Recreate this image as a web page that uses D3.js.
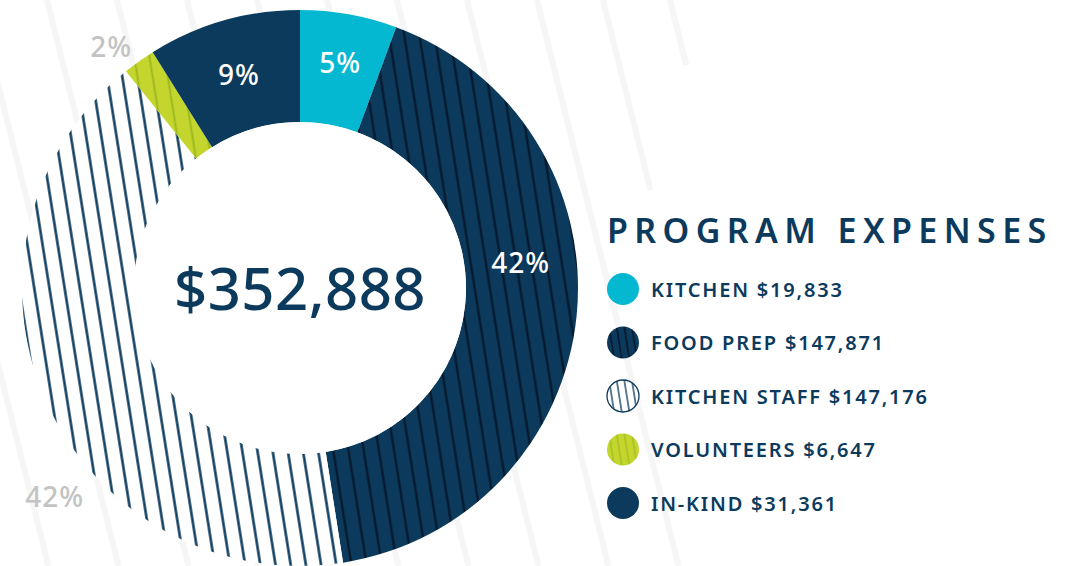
<!DOCTYPE html>
<html>
<head>
<meta charset="utf-8">
<script src="https://cdn.jsdelivr.net/npm/d3@7"></script>
<style>
  html, body { margin: 0; padding: 0; background: #ffffff; }
  svg { display: block; }
</style>
</head>
<body>
<svg id="chart" width="1073" height="566"></svg>
<script>
// ---- data ----
const categories = ["KITCHEN", "FOOD PREP", "KITCHEN STAFF", "VOLUNTEERS", "IN-KIND"];
const values = [19833, 147871, 147176, 6647, 31361];
const percentLabels = ["5%", "42%", "42%", "2%", "9%"];
const totalLabel = "$352,888";
const title = "PROGRAM EXPENSES";

// ---- styling ----
const W = 1073, H = 566;
const cx = 300, cy = 288, rOuter = 278, rInner = 166;
const navy = "#0c3a5c";
const fills = ["#04b8d1", "url(#pFood)", "url(#pStaff)", "url(#pVol)", navy];
const legendFills = ["#04b8d1", "url(#lFood)", "url(#lStaff)", "url(#lVol)", navy];
// label placement: inside (white) or outside (gray); angle fraction within slice; radius
const labelStyle = [
  {out:false, f:0.5,  r:229},
  {out:false, f:0.42, r:222},
  {out:true,  f:0.39, r:322},
  {out:true,  f:0.1,  r:306},
  {out:false, f:0.5,  r:222}
];

const svg = d3.select("#chart");
const defs = svg.append("defs");

function stripePattern(id, bg, stroke, sw, size) {
  const p = defs.append("pattern")
    .attr("id", id).attr("patternUnits", "userSpaceOnUse")
    .attr("width", size).attr("height", size)
    .attr("patternTransform", "rotate(-9)");
  p.append("rect").attr("width", size).attr("height", size).attr("fill", bg);
  p.append("line").attr("x1", size/2).attr("x2", size/2).attr("y1", -2).attr("y2", size+2)
    .attr("stroke", stroke).attr("stroke-width", sw);
}
stripePattern("pFood", navy, "#04172a", 2.2, 15);
stripePattern("pStaff", "#ffffff", navy, 2.5, 15);
stripePattern("pVol", "#c4d62e", "#9ab61d", 1.8, 15);
stripePattern("lFood", navy, "#04172a", 1.6, 7.5);
stripePattern("lStaff", "#ffffff", navy, 1.3, 7.5);
stripePattern("lVol", "#c4d62e", "#9ab61d", 1.1, 7.5);

// ---- faint background bands (decoration) ----
const bandSegs = d3.range(-163, 540, 70).map(x => [x, 0, H])
  .concat([[537, 0, 330], [603, 0, 190], [670, 0, 65]]);
const slope = 0.25;
svg.append("g").selectAll("line").data(bandSegs).join("line")
  .attr("x1", d => d[0] + slope * d[1]).attr("y1", d => d[1])
  .attr("x2", d => d[0] + slope * d[2]).attr("y2", d => d[2])
  .attr("stroke", "#f6f6f6").attr("stroke-width", 6);

// ---- donut ----
const pie = d3.pie().sort(null).value(d => d)(values);
const arc = d3.arc().innerRadius(rInner).outerRadius(rOuter);
const g = svg.append("g").attr("transform", `translate(${cx},${cy})`);
g.selectAll("path").data(pie).join("path")
  .attr("d", arc)
  .attr("fill", (d, i) => fills[i]);

// inner white disc
g.append("circle").attr("r", rInner).attr("fill", "#ffffff");

g.append("text")
  .attr("x", 0).attr("y", 22)
  .attr("text-anchor", "middle")
  .attr("font-family", "'Noto Sans', sans-serif")
  .attr("font-weight", 500)
  .attr("font-size", 58)
  .attr("letter-spacing", 0.5)
  .attr("fill", navy)
  .text(totalLabel);

g.selectAll("text.pct").data(pie).join("text")
  .attr("class", "pct")
  .attr("transform", (d, i) => {
    const s = labelStyle[i];
    const a = d.startAngle + (d.endAngle - d.startAngle) * s.f;
    return `translate(${Math.sin(a) * s.r},${-Math.cos(a) * s.r})`;
  })
  .attr("text-anchor", "middle")
  .attr("dy", "0.36em")
  .attr("font-family", "'Noto Sans', sans-serif")
  .attr("font-weight", 500)
  .attr("font-size", 28)
  .attr("letter-spacing", 1)
  .attr("fill", (d, i) => labelStyle[i].out ? "#c3c3c3" : "#ffffff")
  .text((d, i) => percentLabels[i]);

// ---- legend ----
svg.append("text")
  .attr("x", 607).attr("y", 243)
  .attr("font-family", "'Noto Sans', sans-serif")
  .attr("font-weight", 600)
  .attr("font-size", 34)
  .attr("letter-spacing", 6.4)
  .attr("fill", navy)
  .text(title);

const ly = d3.scalePoint().domain(categories).range([289, 503]);
const leg = svg.append("g").selectAll("g").data(categories).join("g")
  .attr("transform", d => `translate(623,${ly(d)})`);
leg.append("circle").attr("r", 16)
  .attr("fill", (d, i) => legendFills[i])
  .attr("stroke", (d, i) => i === 2 ? navy : "none")
  .attr("stroke-width", 1.3);
leg.append("text")
  .attr("x", 28).attr("y", 7.5)
  .attr("font-family", "'Noto Sans', sans-serif")
  .attr("font-weight", 600)
  .attr("font-size", 20)
  .attr("letter-spacing", 1.8)
  .attr("fill", navy)
  .text((d, i) => `${d} ${d3.format("$,")(values[i])}`);
</script>
</body>
</html>
